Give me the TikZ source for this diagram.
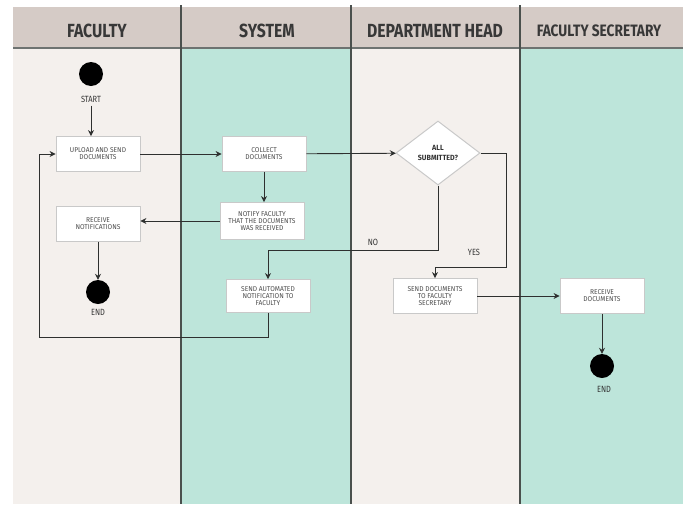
\documentclass[tikz,border=0pt]{standalone}
\usepackage{fontspec}
\setmainfont{Liberation Sans}
\newfontfamily\headfont[FakeStretch=0.83]{Fira Sans}
\newfontfamily\boxfont[FakeStretch=0.95]{Fira Sans}
\usetikzlibrary{shapes.geometric,arrows.meta}
\definecolor{lanebeige}{HTML}{F4F0ED}
\definecolor{laneteal}{HTML}{BDE5DA}
\definecolor{headbg}{HTML}{D5CBC6}
\definecolor{divider}{HTML}{4A504D}
\definecolor{arrowgray}{HTML}{2E302F}
\definecolor{boxgray}{HTML}{C9C9C9}
\begin{document}
\begin{tikzpicture}[x=1pt,y=-1pt,
  box/.style={draw=boxgray, fill=white, line width=0.8pt, minimum width=84pt,
    minimum height=35pt, align=center, inner sep=1pt,
    font=\boxfont\fontsize{7}{7}\selectfont, text=black!70},
  decision/.style={diamond, draw=boxgray, fill=white, line width=1pt,
    minimum width=84pt, minimum height=64pt, inner sep=0pt, align=center,
    font=\boxfont\bfseries\fontsize{7.5}{10}\selectfont, text=black!80},
  term/.style={circle, fill=black, minimum size=24pt, inner sep=0pt},
  lbl/.style={font=\headfont\fontsize{9}{10}\selectfont, text=black!80},
  lanehead/.style={font=\headfont\bfseries\fontsize{19}{20}\selectfont, text=black!78},
  flow/.style={draw=arrowgray, line width=0.9pt, -{Stealth[length=6pt,width=6pt]}}]
\useasboundingbox (0,0) rectangle (683,504);
\fill[white] (0,0) rectangle (683,504);
% swim lanes
\fill[lanebeige] (13,48) rectangle (181,504);
\fill[laneteal]  (181,48) rectangle (351,504);
\fill[lanebeige] (351,48) rectangle (520,504);
\fill[laneteal]  (520,48) rectangle (683,504);
% header band
\fill[headbg] (13,7) rectangle (683,48);
\draw[divider!80, line width=1.6pt] (13,48) -- (683,48);
\foreach \xx in {181,351,520}
  \draw[divider, line width=1.4pt] (\xx,5) -- (\xx,504);
\node[lanehead] (hfac) at (97,31) {FACULTY};
\node[lanehead] (hsys) at (267,31) {SYSTEM};
\node[lanehead] (hdep) at (435,31) {DEPARTMENT HEAD};
\node[lanehead, font=\headfont\bfseries\fontsize{16.5}{18}\selectfont] (hsec) at (599,31) {FACULTY SECRETARY};

% faculty lane
\node[term] (start) at (91,74) {};
\node[lbl] (startlbl) at (91,99) {START};
\node[box] (upload) at (98,154) {UPLOAD AND SEND\\DOCUMENTS};
\node[box] (recvnote) at (98,224) {RECEIVE\\NOTIFICATIONS};
\node[term] (end1) at (98,292) {};
\node[lbl] (end1lbl) at (98,312) {END};

% system lane
\node[box] (collect) at (264,154) {COLLECT\\DOCUMENTS};
\node[box, minimum height=37pt] (notify) at (262,221) {NOTIFY FACULTY\\THAT THE DOCUMENTS\\WAS RECEIVED};
\node[box, minimum height=33pt] (auto) at (268,296) {SEND AUTOMATED\\NOTIFICATION TO\\FACULTY};

% department head lane
\node[decision] (decide) at (438,153) {ALL\\SUBMITTED?};
\node[box] (senddocs) at (435,296) {SEND DOCUMENTS\\TO FACULTY\\SECRETARY};
\node[lbl] (nolbl) at (373,242) {NO};
\node[lbl] (yeslbl) at (474,252) {YES};

% faculty secretary lane
\node[box] (recvdocs) at (602,296) {RECEIVE\\DOCUMENTS};
\node[term] (end2) at (602,366) {};
\node[lbl] (end2lbl) at (604,389) {END};

% bend points
\coordinate (noY) at (0,250);
\coordinate (yesX) at (506,0);
\coordinate (yesY) at (0,267);
\coordinate (loopY) at (0,337);
\coordinate (loopX) at (39,0);

% connectors
\draw[flow] (startlbl.south) -- (startlbl.south |- upload.north);
\draw[flow] (upload) -- (collect);
\draw[flow] (collect) -- (decide);
\draw[flow] (collect.south) -- (collect.south |- notify.north);
\draw[flow] (notify.west) -- (notify.west -| recvnote.east);
\draw[flow] (recvnote) -- (end1);
\draw[flow] (decide.south) -- (decide.south |- noY) -| (auto.north);
\draw[flow] (decide.east) -- (decide.east -| yesX) -- (yesX |- yesY) -| (senddocs.north);
\draw[flow] (auto.south) -- (auto.south |- loopY) -| (loopX |- upload.west) -- (upload.west);
\draw[flow] (senddocs) -- (recvdocs);
\draw[flow] (recvdocs) -- (end2);
\end{tikzpicture}
\end{document}
